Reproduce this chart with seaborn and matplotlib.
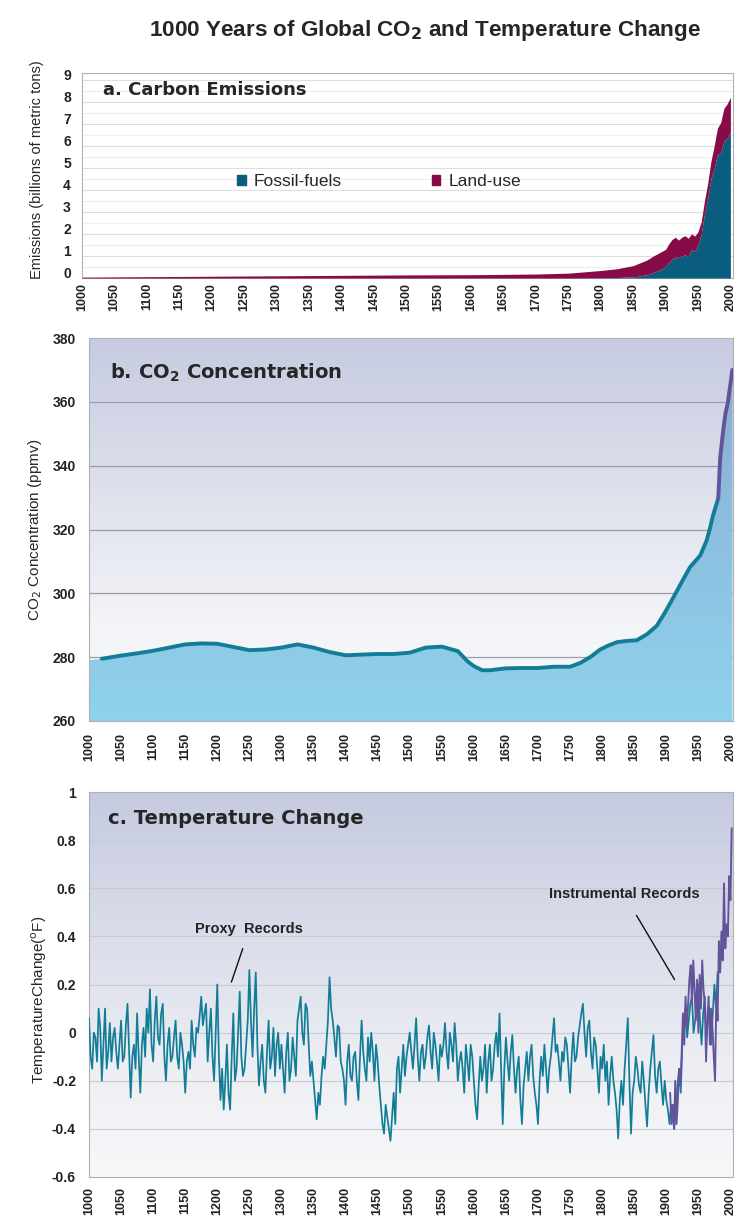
import numpy as np
import matplotlib
matplotlib.use("Agg")
import matplotlib.pyplot as plt
import matplotlib.transforms as mtransforms
from matplotlib.colors import LinearSegmentedColormap
from matplotlib.patches import Patch
import seaborn as sns

# ---------------- data ----------------
# a. carbon emissions, billions of metric tons
emis_years = [1000, 1100, 1200, 1300, 1400, 1500, 1600, 1700, 1750, 1800, 1825,
              1850, 1855, 1860, 1865, 1870, 1875, 1880, 1885, 1890, 1895,
              1900, 1905, 1910, 1915, 1920, 1925, 1930, 1935, 1940, 1945,
              1950, 1955, 1960, 1965, 1970, 1975, 1980, 1985, 1990, 1995, 2000]
fossil = [0, 0, 0, 0, 0, 0, 0, 0, 0, 0.01, 0.02,
          0.05, 0.07, 0.09, 0.12, 0.14, 0.18, 0.24, 0.29, 0.36, 0.42,
          0.53, 0.70, 0.85, 0.95, 0.93, 1.00, 1.05, 0.98, 1.30, 1.20,
          1.50, 2.00, 2.90, 3.60, 4.50, 5.00, 5.60, 5.70, 6.20, 6.35, 6.60]
landuse = [0.04, 0.06, 0.08, 0.10, 0.12, 0.14, 0.15, 0.18, 0.22, 0.33, 0.40,
           0.51, 0.55, 0.59, 0.62, 0.66, 0.70, 0.74, 0.77, 0.78, 0.80,
           0.77, 0.85, 0.90, 0.90, 0.79, 0.85, 0.87, 0.82, 0.70, 0.70,
           0.60, 0.55, 0.60, 0.70, 0.80, 1.00, 1.20, 1.35, 1.50, 1.55, 1.60]

# b. CO2 concentration, ppmv
co2_years = [1000, 1020, 1050, 1075, 1100, 1125, 1150, 1175, 1200, 1225, 1250,
             1275, 1300, 1325, 1350, 1375, 1400, 1425, 1450, 1475, 1500, 1525,
             1550, 1575, 1590, 1600, 1613, 1625, 1650, 1675, 1700, 1725, 1750,
             1766, 1782, 1797, 1808, 1823, 1839, 1854, 1870, 1885, 1898, 1911,
             1924, 1937, 1953, 1963, 1968, 1973, 1981, 1984, 1988, 1992, 1996, 2003]
co2_ppmv = [279.0, 279.5, 280.5, 281.2, 282.0, 283.0, 284.0, 284.3, 284.2, 283.2, 282.2,
            282.4, 283.0, 284.0, 283.0, 281.6, 280.6, 280.8, 281.0, 281.0, 281.4, 283.0,
            283.3, 281.9, 278.7, 277.2, 275.9, 275.9, 276.5, 276.6, 276.6, 277.0, 277.0,
            278.2, 280.1, 282.4, 283.5, 284.7, 285.1, 285.3, 287.2, 289.8, 294.0, 298.7,
            303.5, 308.2, 311.9, 316.6, 320.3, 324.5, 329.8, 342.4, 349.8, 356.1, 359.8, 370.0]
co2_split = 1981  # ice core -> direct measurements

# c. temperature change, proxy every 2.5 years from 1000 to 1980
proxy_temp = [
    0.06, -0.10, -0.15, 0.00, -0.02, -0.12, 0.10, 0.02, -0.20, -0.05,
    0.10, -0.15, -0.08, 0.04, -0.12, -0.02, 0.02, -0.08, -0.15, -0.05,
    0.05, -0.12, -0.10, 0.03, 0.12, -0.08, -0.27, -0.10, -0.05, -0.15,
    0.08, -0.10, -0.25, -0.05, 0.02, -0.10, 0.10, 0.00, 0.18, -0.05,
    -0.12, 0.05, 0.15, -0.02, -0.05, 0.08, 0.12, -0.10, -0.20, -0.05,
    0.02, -0.12, -0.10, -0.02, 0.05, -0.10, -0.15, 0.00, -0.05, -0.12,
    -0.25, -0.12, -0.08, -0.15, 0.05, -0.05, -0.10, 0.02, 0.00, 0.07,
    0.15, 0.03, 0.08, 0.12, -0.12, 0.00, 0.10, -0.10, -0.20, 0.00,
    0.20, -0.10, -0.28, -0.15, -0.32, -0.20, -0.05, -0.25, -0.32, -0.10,
    0.08, -0.20, -0.15, 0.00, 0.17, -0.10, -0.18, -0.15, -0.05, 0.05,
    0.26, 0.05, -0.10, 0.10, 0.25, -0.05, -0.22, -0.12, -0.05, -0.20,
    -0.25, -0.08, 0.05, -0.15, -0.10, 0.02, -0.18, -0.05, 0.00, -0.15,
    -0.05, -0.15, -0.25, -0.08, 0.00, -0.20, -0.15, -0.02, -0.10, -0.18,
    0.05, 0.10, 0.15, 0.00, -0.05, 0.12, 0.10, -0.05, -0.18, -0.12,
    -0.20, -0.28, -0.36, -0.25, -0.30, -0.18, -0.10, -0.15, -0.05, 0.05,
    0.23, 0.10, 0.05, -0.02, -0.10, 0.03, 0.02, -0.12, -0.15, -0.20,
    -0.30, -0.12, -0.05, -0.18, -0.20, -0.10, -0.08, -0.20, -0.28, -0.10,
    0.05, -0.08, -0.15, -0.20, -0.02, -0.12, 0.00, -0.08, -0.20, -0.05,
    -0.12, -0.22, -0.30, -0.38, -0.42, -0.30, -0.35, -0.40, -0.45, -0.35,
    -0.25, -0.38, -0.15, -0.10, -0.25, -0.15, -0.05, -0.18, -0.10, -0.05,
    0.00, -0.08, -0.15, -0.05, 0.06, -0.10, -0.20, -0.08, -0.05, -0.15,
    -0.10, -0.02, 0.03, -0.08, -0.15, 0.00, -0.05, -0.12, -0.20, -0.05,
    -0.10, -0.05, 0.04, -0.08, -0.15, 0.00, -0.05, -0.12, 0.04, -0.05,
    -0.20, -0.12, -0.08, -0.15, -0.25, -0.05, -0.12, -0.20, -0.05, -0.10,
    -0.20, -0.30, -0.36, -0.22, -0.10, -0.20, -0.15, -0.05, -0.25, -0.12,
    -0.05, -0.20, -0.15, -0.05, 0.00, -0.10, 0.08, -0.15, -0.38, -0.15,
    -0.02, -0.12, -0.20, -0.08, -0.01, -0.15, -0.25, -0.15, -0.10, -0.28,
    -0.38, -0.22, -0.15, -0.08, -0.20, -0.10, -0.05, -0.18, -0.25, -0.30,
    -0.38, -0.20, -0.10, -0.18, -0.05, -0.15, -0.25, -0.15, -0.10, -0.02,
    0.06, -0.08, -0.05, -0.12, -0.20, -0.08, -0.12, -0.02, -0.05, -0.15,
    -0.25, -0.10, 0.00, -0.12, -0.10, -0.02, 0.03, 0.08, 0.12, 0.00,
    -0.10, 0.02, 0.05, -0.08, -0.15, -0.02, -0.05, -0.15, -0.25, -0.10,
    -0.15, -0.05, -0.20, -0.12, -0.30, -0.18, -0.10, -0.20, -0.25, -0.32,
    -0.44, -0.28, -0.20, -0.30, -0.15, -0.05, 0.06, -0.20, -0.42, -0.25,
    -0.20, -0.10, -0.15, -0.22, -0.25, -0.12, -0.20, -0.30, -0.39, -0.25,
    -0.15, -0.08, -0.01, -0.18, -0.25, -0.15, -0.12, -0.22, -0.30, -0.20,
    -0.28, -0.32, -0.38, -0.30, -0.35, -0.40, -0.30, -0.22, -0.15, -0.25,
    -0.05, 0.05, 0.10, -0.02, 0.05, 0.12, 0.15, 0.00, 0.05, 0.10,
    0.20, 0.05, -0.05, 0.08, 0.15, -0.02, 0.05, 0.10, -0.05, 0.08,
    0.20, 0.10, 0.25]
proxy_years = np.arange(1000, 1980.1, 2.5)
instr_years = list(range(1906, 2003, 2))
instr_temp = [
    -0.25, -0.38, -0.30, -0.40, -0.20, -0.38, -0.28, -0.15, -0.22, -0.08,
    0.08, -0.05, 0.15, 0.02, 0.12, 0.22, 0.28, 0.12, 0.30, 0.18,
    0.05, 0.22, 0.00, 0.24, 0.10, 0.30, 0.18, 0.12, -0.12, 0.05,
    0.15, -0.05, 0.10, 0.02, -0.10, -0.20, 0.15, 0.05, 0.38, 0.25,
    0.42, 0.30, 0.62, 0.35, 0.45, 0.40, 0.65, 0.55, 0.85]

year_ticks = list(range(1000, 2001, 50))

# ---------------- style ----------------
sns.set_theme(style="white")
plt.rcParams["font.family"] = ["Liberation Sans", "DejaVu Sans"]
HEAVY = ["DejaVu Sans"]

teal = "#137d98"
purple = "#63539a"
fossil_c = "#0a5d7e"
land_c = "#870b47"
tick_c = "#222222"

fig = plt.figure(figsize=(7.37, 12.19), dpi=100)
W, H = 737, 1219


def add_ax(left, top, right, bottom):
    return fig.add_axes([left / W, 1 - bottom / H, (right - left) / W, (bottom - top) / H])


def gradient(ax, stops, zorder=0):
    cmap = LinearSegmentedColormap.from_list("g", stops)
    ax.imshow(np.linspace(0, 1, 256).reshape(-1, 1), cmap=cmap, origin="lower",
              extent=[0, 1, 0, 1], transform=ax.transAxes, aspect="auto",
              zorder=zorder, interpolation="bilinear")


def style_axis(ax, xlim, ylim, xpad, ypad):
    ax.set_xlim(*xlim)
    ax.set_ylim(*ylim)
    ax.set_xticks(year_ticks)
    ax.set_xticklabels([str(y) for y in year_ticks], rotation=90, fontsize=9,
                       fontweight="bold", color=tick_c)
    ax.tick_params(axis="both", length=0)
    ax.tick_params(axis="x", pad=xpad)
    ax.tick_params(axis="y", pad=ypad)
    for s in ax.spines.values():
        s.set_color("#b0b0b8")
        s.set_linewidth(0.8)
    ax.set_xlabel("")


fig.text(0.577, 0.975, "1000 Years of Global CO$_\\mathbf{2}$ and Temperature Change",
         ha="center", va="center", fontsize=16.2, fontweight="bold")

# ---------------- a. carbon emissions ----------------
ax1 = add_ax(82, 73, 733, 278)
ax1.set_facecolor("white")
ax1.stackplot(emis_years, fossil, landuse, colors=[fossil_c, land_c],
              linewidth=0, zorder=3)
ax1.set_yticks(range(0, 10))
ax1.set_yticks(np.arange(0.5, 9.5, 1), minor=True)
ax1.grid(axis="y", which="major", color="#dedede", lw=0.8, zorder=1)
ax1.grid(axis="y", which="minor", color="#eeeeee", lw=0.8, zorder=1)
ax1.set_axisbelow(True)
style_axis(ax1, (1000, 2004), (0, 9.3), xpad=3.6, ypad=8)
ax1.set_yticklabels([str(v) for v in range(0, 10)], fontsize=10, fontweight="bold",
                    color=tick_c)
shift = mtransforms.ScaledTranslation(0, 0.05, fig.dpi_scale_trans)
for lab in ax1.get_yticklabels():
    lab.set_transform(lab.get_transform() + shift)
ax1.set_ylabel("Emissions (billions of metric tons)", fontsize=10.5)
ax1.yaxis.set_label_coords(-0.058, 0.527)
ax1.text(0.032, 0.915, "a. Carbon Emissions", transform=ax1.transAxes,
         fontsize=13, fontweight="bold", va="center", family=HEAVY)
handles = [Patch(color=fossil_c, label="Fossil-fuels"), Patch(color=land_c, label="Land-use")]
ax1.legend(handles=handles, ncol=2, frameon=False, loc="center",
           bbox_to_anchor=(0.456, 0.47), fontsize=12.5, handlelength=0.5,
           handleheight=0.5, handletextpad=0.45, columnspacing=5.2)

# ---------------- b. CO2 concentration ----------------
ax2 = add_ax(89, 338, 733, 721)
gradient(ax2, [(0.0, "#f8f9fa"), (0.25, "#f3f4f7"), (1.0, "#c6cbe0")])
ax2.set_yticks(range(260, 381, 20))
for v in range(280, 380, 20):
    ax2.axhline(v, color="#9a9ca8", lw=0.9, zorder=1)
fill = ax2.fill_between(co2_years, 260, co2_ppmv, color="none", lw=0, zorder=2)
fcmap = LinearSegmentedColormap.from_list("f", ["#8fd2ec", "#8cbfe0", "#8ea6cf"])
img = ax2.imshow(np.linspace(0, 1, 256).reshape(-1, 1), cmap=fcmap, origin="lower",
                 extent=[1000, 2004, 260, 380], aspect="auto", zorder=2,
                 interpolation="bilinear")
img.set_clip_path(fill.get_paths()[0], transform=ax2.transData)
yrs = np.array(co2_years)
ppm = np.array(co2_ppmv)
early = (yrs >= 1020) & (yrs <= co2_split)
late = yrs >= co2_split
sns.lineplot(x=yrs[early], y=ppm[early], ax=ax2, color=teal, lw=2.8,
             estimator=None, sort=False, zorder=4)
sns.lineplot(x=yrs[late], y=ppm[late], ax=ax2, color=purple, lw=2.8,
             estimator=None, sort=False, zorder=4)
style_axis(ax2, (1000, 2004), (260, 380), xpad=8.6, ypad=9.4)
ax2.set_yticklabels([str(v) for v in range(260, 381, 20)], fontsize=10,
                    fontweight="bold", color=tick_c)
ax2.set_ylabel("CO$_2$ Concentration (ppmv)", fontsize=11)
ax2.yaxis.set_label_coords(-0.070, 0.5)
ax2.text(0.033, 0.91, "b. CO$_\\mathbf{2}$ Concentration", transform=ax2.transAxes,
         fontsize=14, fontweight="bold", va="center", family=HEAVY)

# ---------------- c. temperature change ----------------
ax3 = add_ax(89, 792, 733, 1177)
gradient(ax3, [(0.0, "#f7f8f9"), (0.3, "#eceef3"), (1.0, "#c5cadf")])
temp_ticks = [-0.6, -0.4, -0.2, 0, 0.2, 0.4, 0.6, 0.8, 1.0]
ax3.set_yticks(temp_ticks)
for v in temp_ticks[1:-1]:
    ax3.axhline(v, color="#c9cad2", lw=0.8, zorder=1)
sns.lineplot(x=proxy_years, y=proxy_temp, ax=ax3, color=teal, lw=1.25,
             estimator=None, sort=False, zorder=3)
sns.lineplot(x=instr_years, y=instr_temp, ax=ax3, color=purple, lw=1.35,
             estimator=None, sort=False, zorder=4)
style_axis(ax3, (1000, 2004), (-0.6, 1.0), xpad=7, ypad=9.4)
ax3.set_yticklabels(["-0.6", "-0.4", "-0.2", "0", "0.2", "0.4", "0.6", "0.8", "1"],
                    fontsize=10, fontweight="bold", color=tick_c)
ax3.set_ylabel("TemperatureChange($^{\\mathrm{o}}$F)", fontsize=11)
ax3.yaxis.set_label_coords(-0.062, 0.46)
ax3.text(0.03, 0.93, "c. Temperature Change", transform=ax3.transAxes,
         fontsize=14, fontweight="bold", va="center", family=HEAVY)
ax3.annotate("Proxy  Records", xy=(1222, 0.21), xytext=(1250, 0.43),
             ha="center", va="center", fontsize=10.5, fontweight="bold",
             color=tick_c,
             arrowprops=dict(arrowstyle="-", color="#111111", lw=1.0,
                             shrinkA=7, shrinkB=0))
ax3.annotate("Instrumental Records", xy=(1913, 0.22), xytext=(1834, 0.575),
             ha="center", va="center", fontsize=10.5, fontweight="bold",
             color=tick_c,
             arrowprops=dict(arrowstyle="-", color="#111111", lw=1.0,
                             shrinkA=9, shrinkB=0))

fig.savefig("out.png", dpi=100, facecolor="white")
